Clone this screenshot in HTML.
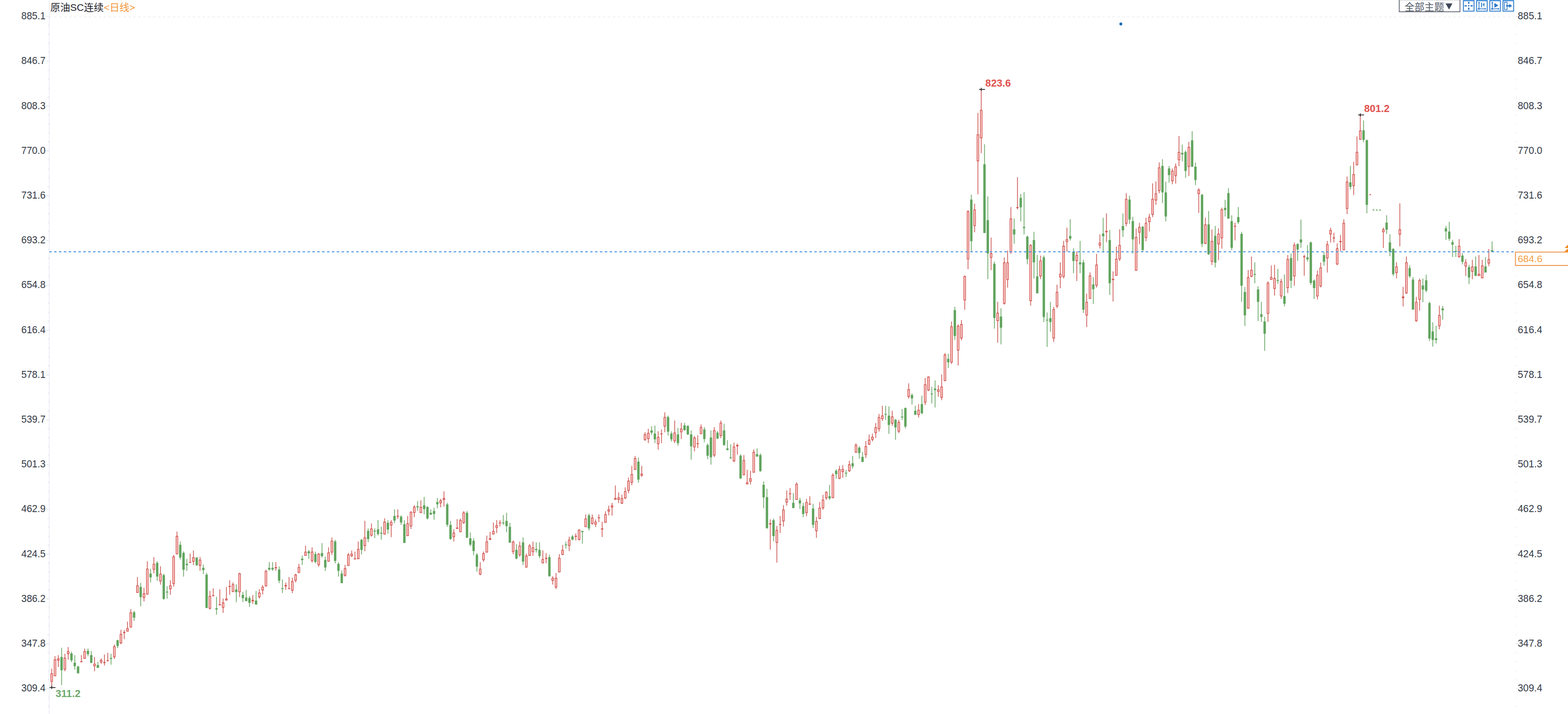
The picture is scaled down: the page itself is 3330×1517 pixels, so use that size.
<!DOCTYPE html>
<html><head><meta charset="utf-8"><title>chart</title>
<style>html,body{margin:0;padding:0;background:#fff;}body{width:3330px;height:1517px;overflow:hidden;position:relative;font-family:"Liberation Sans",sans-serif;}</style>
</head><body>
<svg width="3330" height="1517" viewBox="0 0 3330 1517" style="position:absolute;left:0;top:0;font-family:'Liberation Sans',sans-serif"><rect width="3330" height="1517" fill="#fff"/><line x1="104.5" y1="36" x2="3217" y2="36" stroke="#ecedef" stroke-width="1.3" stroke-dasharray="5.4 5.1"/><line x1="104.5" y1="0" x2="104.5" y2="1517" stroke="#e9ebf0" stroke-width="1.6"/><path d="M98.4 34.9h5.2M3219.4 34.9h4M101.4 53.9h2.4M3219.4 53.9h1.8M101.4 73h2.4M3219.4 73h1.8M101.4 92h2.4M3219.4 92h1.8M101.4 111.1h2.4M3219.4 111.1h1.8M98.4 130.1h5.2M3219.4 130.1h4M101.4 149.1h2.4M3219.4 149.1h1.8M101.4 168.2h2.4M3219.4 168.2h1.8M101.4 187.2h2.4M3219.4 187.2h1.8M101.4 206.3h2.4M3219.4 206.3h1.8M98.4 225.3h5.2M3219.4 225.3h4M101.4 244.3h2.4M3219.4 244.3h1.8M101.4 263.4h2.4M3219.4 263.4h1.8M101.4 282.4h2.4M3219.4 282.4h1.8M101.4 301.5h2.4M3219.4 301.5h1.8M98.4 320.5h5.2M3219.4 320.5h4M101.4 339.5h2.4M3219.4 339.5h1.8M101.4 358.6h2.4M3219.4 358.6h1.8M101.4 377.6h2.4M3219.4 377.6h1.8M101.4 396.7h2.4M3219.4 396.7h1.8M98.4 415.7h5.2M3219.4 415.7h4M101.4 434.7h2.4M3219.4 434.7h1.8M101.4 453.8h2.4M3219.4 453.8h1.8M101.4 472.8h2.4M3219.4 472.8h1.8M101.4 491.9h2.4M3219.4 491.9h1.8M98.4 510.9h5.2M3219.4 510.9h4M101.4 529.9h2.4M3219.4 529.9h1.8M101.4 549h2.4M3219.4 549h1.8M101.4 568h2.4M3219.4 568h1.8M101.4 587.1h2.4M3219.4 587.1h1.8M98.4 606.1h5.2M3219.4 606.1h4M101.4 625.1h2.4M3219.4 625.1h1.8M101.4 644.2h2.4M3219.4 644.2h1.8M101.4 663.2h2.4M3219.4 663.2h1.8M101.4 682.3h2.4M3219.4 682.3h1.8M98.4 701.3h5.2M3219.4 701.3h4M101.4 720.3h2.4M3219.4 720.3h1.8M101.4 739.4h2.4M3219.4 739.4h1.8M101.4 758.4h2.4M3219.4 758.4h1.8M101.4 777.5h2.4M3219.4 777.5h1.8M98.4 796.5h5.2M3219.4 796.5h4M101.4 815.5h2.4M3219.4 815.5h1.8M101.4 834.6h2.4M3219.4 834.6h1.8M101.4 853.6h2.4M3219.4 853.6h1.8M101.4 872.7h2.4M3219.4 872.7h1.8M98.4 891.7h5.2M3219.4 891.7h4M101.4 910.7h2.4M3219.4 910.7h1.8M101.4 929.8h2.4M3219.4 929.8h1.8M101.4 948.8h2.4M3219.4 948.8h1.8M101.4 967.9h2.4M3219.4 967.9h1.8M98.4 986.9h5.2M3219.4 986.9h4M101.4 1005.9h2.4M3219.4 1005.9h1.8M101.4 1025h2.4M3219.4 1025h1.8M101.4 1044h2.4M3219.4 1044h1.8M101.4 1063.1h2.4M3219.4 1063.1h1.8M98.4 1082.1h5.2M3219.4 1082.1h4M101.4 1101.1h2.4M3219.4 1101.1h1.8M101.4 1120.2h2.4M3219.4 1120.2h1.8M101.4 1139.2h2.4M3219.4 1139.2h1.8M101.4 1158.3h2.4M3219.4 1158.3h1.8M98.4 1177.3h5.2M3219.4 1177.3h4M101.4 1196.3h2.4M3219.4 1196.3h1.8M101.4 1215.4h2.4M3219.4 1215.4h1.8M101.4 1234.4h2.4M3219.4 1234.4h1.8M101.4 1253.5h2.4M3219.4 1253.5h1.8M98.4 1272.5h5.2M3219.4 1272.5h4M101.4 1291.5h2.4M3219.4 1291.5h1.8M101.4 1310.6h2.4M3219.4 1310.6h1.8M101.4 1329.6h2.4M3219.4 1329.6h1.8M101.4 1348.7h2.4M3219.4 1348.7h1.8M98.4 1367.7h5.2M3219.4 1367.7h4M101.4 1386.7h2.4M3219.4 1386.7h1.8M101.4 1405.8h2.4M3219.4 1405.8h1.8M101.4 1424.8h2.4M3219.4 1424.8h1.8M101.4 1443.9h2.4M3219.4 1443.9h1.8M98.4 1462.9h5.2M3219.4 1462.9h4M101.4 1481.9h2.4M3219.4 1481.9h1.8M101.4 1501h2.4M3219.4 1501h1.8" stroke="#d9dde4" stroke-width="1.4" fill="none"/><g font-size="21" fill="#353b47"><text transform="translate(96.7 41.1) scale(0.98 1.055)" text-anchor="end">885.1</text><text transform="translate(3223.3 41.1) scale(0.99 1.055)">885.1</text><text transform="translate(96.7 136.3) scale(0.98 1.055)" text-anchor="end">846.7</text><text transform="translate(3223.3 136.3) scale(0.99 1.055)">846.7</text><text transform="translate(96.7 231.5) scale(0.98 1.055)" text-anchor="end">808.3</text><text transform="translate(3223.3 231.5) scale(0.99 1.055)">808.3</text><text transform="translate(96.7 326.7) scale(0.98 1.055)" text-anchor="end">770.0</text><text transform="translate(3223.3 326.7) scale(0.99 1.055)">770.0</text><text transform="translate(96.7 421.9) scale(0.98 1.055)" text-anchor="end">731.6</text><text transform="translate(3223.3 421.9) scale(0.99 1.055)">731.6</text><text transform="translate(96.7 517.1) scale(0.98 1.055)" text-anchor="end">693.2</text><text transform="translate(3223.3 517.1) scale(0.99 1.055)">693.2</text><text transform="translate(96.7 612.3) scale(0.98 1.055)" text-anchor="end">654.8</text><text transform="translate(3223.3 612.3) scale(0.99 1.055)">654.8</text><text transform="translate(96.7 707.5) scale(0.98 1.055)" text-anchor="end">616.4</text><text transform="translate(3223.3 707.5) scale(0.99 1.055)">616.4</text><text transform="translate(96.7 802.7) scale(0.98 1.055)" text-anchor="end">578.1</text><text transform="translate(3223.3 802.7) scale(0.99 1.055)">578.1</text><text transform="translate(96.7 897.9) scale(0.98 1.055)" text-anchor="end">539.7</text><text transform="translate(3223.3 897.9) scale(0.99 1.055)">539.7</text><text transform="translate(96.7 993.1) scale(0.98 1.055)" text-anchor="end">501.3</text><text transform="translate(3223.3 993.1) scale(0.99 1.055)">501.3</text><text transform="translate(96.7 1088.3) scale(0.98 1.055)" text-anchor="end">462.9</text><text transform="translate(3223.3 1088.3) scale(0.99 1.055)">462.9</text><text transform="translate(96.7 1183.5) scale(0.98 1.055)" text-anchor="end">424.5</text><text transform="translate(3223.3 1183.5) scale(0.99 1.055)">424.5</text><text transform="translate(96.7 1278.7) scale(0.98 1.055)" text-anchor="end">386.2</text><text transform="translate(3223.3 1278.7) scale(0.99 1.055)">386.2</text><text transform="translate(96.7 1373.9) scale(0.98 1.055)" text-anchor="end">347.8</text><text transform="translate(3223.3 1373.9) scale(0.99 1.055)">347.8</text><text transform="translate(96.7 1469.1) scale(0.98 1.055)" text-anchor="end">309.4</text><text transform="translate(3223.3 1469.1) scale(0.99 1.055)">309.4</text></g><path d="M130.8 1376.3V1455.8M151.8 1384.8V1406.9M158.8 1392.1V1422.7M165.8 1414.6V1431.4M186.8 1378.1V1394.5M193.8 1383.3V1408.4M207.8 1406.1V1419M235.8 1389V1412.3M249.8 1359.2V1377.1M284.8 1297.9V1319.2M298.8 1238.4V1288.1M319.8 1208.4V1237.3M333.8 1192.6V1233.8M347.8 1219V1274.1M354.8 1245.4V1272.1M382.8 1150.6V1188.7M389.8 1171.6V1225.2M396.8 1187.2V1213.1M417.8 1184.1V1202.2M431.8 1199.6V1219.8M438.8 1217.1V1291.7M459.8 1267.9V1306M501.8 1241.5V1279.5M515.8 1257.4V1279.2M522.8 1253.5V1277.6M529.8 1266.4V1289.8M543.8 1255.5V1284.6M571.8 1194.3V1212.7M578.8 1194.3V1212.7M592.8 1203.4V1239.1M599.8 1231V1260M641.8 1180.4V1200.6M655.8 1168.4V1187.8M669.8 1172V1197.1M683.8 1154V1184.7M690.8 1182.4V1213M711.8 1147.1V1197.1M718.8 1194.3V1225.1M725.8 1211.9V1239.1M767.8 1145.3V1177.9M781.8 1122.6V1151.8M795.8 1122.6V1143.3M802.8 1104.9V1138.1M809.8 1118.9V1146.8M823.8 1105.2V1133.9M837.8 1082.2V1111.4M851.8 1094.7V1115.3M858.8 1105.2V1153.4M886.8 1064.5V1085.3M900.8 1055.8V1092.5M907.8 1075.4V1103.4M914.8 1082.2V1093.6M921.8 1078.8V1104.4M928.8 1057.9V1080.1M949.8 1068.3V1119.2M956.8 1106.8V1147.1M991.8 1085.8V1142.5M998.8 1131.3V1160.3M1005.8 1143.7V1179.8M1012.8 1175.1V1214.7M1068.8 1094.3V1115.3M1075.8 1089.4V1130.8M1082.8 1110.7V1153M1096.8 1156.2V1188.3M1110.8 1141.7V1200.6M1138.8 1152.3V1174.1M1145.8 1152.3V1186.3M1166.8 1178.5V1224.6M1201.8 1150.8V1165.5M1215.8 1136.4V1148.1M1236.8 1128.1V1155.2M1250.8 1091.2V1127.1M1355.8 972.2V1025.4M1383.8 905.6V923.7M1390.8 904.3V941.6M1418.8 882.9V925.6M1425.8 916.3V938.1M1439.8 908.9V947M1453.8 898.4V915.3M1460.8 903.7V924.1M1467.8 914.4V976.5M1495.8 907.6V939.6M1502.8 942.5V975.5M1509.8 914.4V987.2M1523.8 915.9V932.8M1537.8 900.4V947M1544.8 935.3V957.1M1551.8 943.9V975M1572.8 964.9V1016.9M1607.8 952.8V971.1M1614.8 963.3V1002.7M1621.8 1022.7V1079.7M1628.8 1038.6V1123.1M1642.8 1101.8V1149.9M1684.8 1047.4V1079.5M1698.8 1057.8V1081.5M1705.8 1068.2V1099M1726.8 1070.2V1122M1761.8 1029.9V1062M1775.8 996.9V1016.9M1796.8 998.3V1013.4M1810.8 968.7V995.5M1824.8 948V974.6M1831.8 960.2V981.6M1880.8 861.9V892.6M1887.8 863.5V922.1M1901.8 890.3V934.4M1915.8 868.9V892.2M1922.8 865.4V910.1M1936.8 835.9V859.2M1943.8 861.9V881.4M1957.8 840.6V880M1978.8 821.7V857.3M1985.8 808.2V865.8M2013.8 751.8V781.7M2027.8 651.7V722.1M2062.8 413.4V534.2M2090.8 306.6V495M2097.8 417.3V593M2111.8 555.5V698.3M2125.8 655.1V731.8M2153.8 464.3V517.7M2167.8 411.8V470.5M2174.8 408.3V498.3M2181.8 500.8V561.4M2195.8 492.4V591.5M2202.8 541.6V623.7M2216.8 542.9V684.3M2223.8 663.9V737.1M2230.8 641.2V704.7M2272.8 465.8V510.9M2279.8 527.4V580.4M2293.8 511.8V580.4M2300.8 552V664.9M2321.8 588.7V645.8M2342.8 462.7V536.5M2356.8 488.5V626.4M2384.8 453.6V503.5M2398.8 415.7V475.5M2405.8 460.8V539M2426.8 480.2V534.2M2468.8 338.3V431.6M2475.8 386.1V470.4M2482.8 352.5V388.1M2510.8 306.9V342.8M2517.8 319.5V377.8M2531.8 278.7V355M2538.8 345.3V393.3M2552.8 412.1V524.7M2566.8 448.6V541.7M2580.8 480V568.3M2601.8 424.4V459.9M2608.8 399.7V464.6M2615.8 457.4V531.5M2629.8 439.9V475.8M2636.8 492.5V641.6M2643.8 609.7V692.6M2664.8 557.3V601.9M2671.8 608.2V681.9M2678.8 641.2V683.9M2685.8 672.9V745.6M2713.8 571.3V603.3M2727.8 583.3V650.9M2741.8 538.3V612M2755.8 516.9V554.2M2762.8 466.5V526.6M2776.8 520.4V555.7M2783.8 513V605.2M2790.8 593.6V635M2811.8 535.3V564.5M2867.8 352.5V402.5M2895.8 255.9V302.3M2902.8 296.2V452.9M2944.8 457.2V497M2951.8 497.6V544.2M2958.8 526.7V586.3M2993.8 564V590.2M3000.8 588.8V657.8M3021.8 592.1V642M3028.8 583.4V621.1M3035.8 640.9V724.5M3042.8 685.1V736.6M3049.8 691.9V729.7M3063.8 649.9V679.2M3070.8 480.1V509.6M3077.8 471.2V511.6M3084.8 509.6V546.1M3091.8 522.2V546.1M3105.8 537.8V561.7M3119.8 562.4V603.8M3133.8 545V586.3M3154.8 546.5V579.1M3168.8 513.1V534.9" stroke="#78b075" stroke-width="1.8" fill="none"/><path d="M109.8 1420.4V1459.7M116.8 1394.1V1436.4M123.8 1392.1V1417M137.8 1389V1426.3M144.8 1374.7V1401.4M172.8 1392.1V1406.9M179.8 1378.1V1399.6M200.8 1396V1426.3M214.8 1398.8V1410.8M221.8 1390.6V1413.9M228.8 1387V1405.3M242.8 1369.6V1399.9M256.8 1338.2V1368.8M263.8 1338.6V1358M270.8 1320.7V1341.7M277.8 1294.3V1333.1M291.8 1226V1259.4M305.8 1248.8V1277.7M312.8 1192.6V1263.3M326.8 1183.8V1218.2M340.8 1203.2V1242.3M361.8 1232.7V1263.7M368.8 1178.9V1246.2M375.8 1129.6V1177.6M403.8 1176.3V1195.4M410.8 1169.6V1200.7M424.8 1183.6V1212.8M445.8 1255.5V1295.1M452.8 1250.1V1267.1M466.8 1251.9V1286.1M473.8 1271.5V1302.1M480.8 1247V1275.7M487.8 1232.7V1263.7M494.8 1237.6V1257.8M508.8 1216.7V1268.4M536.8 1264.2V1283.1M550.8 1251.8V1271.7M557.8 1243.1V1263.2M564.8 1210.3V1245.7M585.8 1194.3V1212.7M606.8 1237.8V1253M613.8 1225.9V1251.2M620.8 1227.4V1260M627.8 1218.9V1237.2M634.8 1197.9V1218.1M648.8 1159.6V1180.8M662.8 1163V1195.3M676.8 1175.1V1204.1M697.8 1163V1193.3M704.8 1142V1179.3M732.8 1199.9V1225.1M739.8 1174.8V1202.3M746.8 1169.7V1183.6M753.8 1172V1188.3M760.8 1150.6V1187.8M774.8 1106.5V1171.2M788.8 1112.2V1140.2M816.8 1101.3V1135.5M830.8 1104.9V1141.2M844.8 1082.2V1102.4M865.8 1096.2V1139.1M872.8 1085.8V1123.9M879.8 1073.4V1099M893.8 1063V1090M935.8 1059.9V1078M942.8 1043.9V1076.5M963.8 1124.6V1150.6M970.8 1102.9V1123.5M977.8 1101.8V1130.4M984.8 1085.8V1113M1019.8 1194.5V1222.2M1026.8 1171.7V1193.7M1033.8 1138.1V1173.9M1040.8 1129.8V1147.1M1047.8 1110.2V1135.5M1054.8 1104.9V1132.4M1061.8 1104.9V1118.4M1089.8 1148.6V1177.5M1103.8 1150.7V1183.1M1117.8 1176.6V1205.7M1124.8 1155.8V1181.1M1131.8 1150.8V1181.1M1152.8 1169.4V1196.6M1159.8 1175.2V1196.6M1173.8 1224.2V1242M1180.8 1217.4V1251.4M1187.8 1177.2V1216M1194.8 1157.8V1179.5M1208.8 1140.3V1170.8M1222.8 1133.3V1148.1M1229.8 1124.2V1148.4M1243.8 1093.1V1119.7M1257.8 1093.1V1114.5M1264.8 1103.4V1119.7M1271.8 1093.1V1109.2M1278.8 1108.6V1141.1M1285.8 1086.3V1110.6M1292.8 1074.3V1095M1299.8 1068.4V1095.6M1306.8 1031.5V1062M1313.8 1046.3V1068.8M1320.8 1051.1V1071.1M1327.8 1035.4V1060M1334.8 1014.4V1047.9M1341.8 989.7V1030.9M1348.8 968.7V998.3M1362.8 989.7V1013M1369.8 918.3V936.7M1376.8 910.9V941.6M1397.8 916.3V955.5M1404.8 912.4V941.6M1411.8 875.9V918.6M1432.8 893.4V941.6M1446.8 898.4V932.8M1474.8 926.4V959M1481.8 925V952.2M1488.8 901.7V922.1M1516.8 907.6V971.1M1530.8 893.4V930.9M1558.8 940.6V981.9M1565.8 942.5V965.8M1579.8 966.8V1009.5M1586.8 998.3V1028.9M1593.8 1000.2V1029.3M1600.8 954.8V1004.1M1635.8 1103.4V1167.6M1649.8 1117.3V1195.3M1656.8 1096.2V1132.4M1663.8 1073.3V1118.4M1670.8 1041.9V1074.5M1677.8 1036.7V1062M1691.8 1024.7V1062M1712.8 1059.9V1097.1M1719.8 1054.2V1072.2M1733.8 1098.2V1142.8M1740.8 1066.5V1102.4M1747.8 1051.2V1083M1754.8 1043.5V1062M1768.8 1005.2V1058.3M1782.8 989.7V1018.3M1789.8 988.2V1015M1803.8 979V1002.9M1817.8 942.1V962.5M1838.8 936.9V973.2M1845.8 923.3V945.4M1852.8 921.4V937.7M1859.8 898.8V930.5M1866.8 879.4V916.9M1873.8 861.9V894.2M1894.8 872.8V904.7M1908.8 891.7V920.2M1929.8 814.6V847M1950.8 858.6V887.2M1964.8 802.9V860.6M1971.8 799.4V830.9M1992.8 818.4V843.1M1999.8 795.5V850.3M2006.8 749.9V809.5M2020.8 683.3V773.2M2034.8 689.1V776.5M2041.8 680V722.7M2048.8 585.2V658.1M2055.8 446.4V572M2069.8 432.8V493.4M2076.8 240V412.8M2083.8 190.1V325.4M2104.8 504.7V574M2118.8 641.2V728M2132.8 546.8V647M2139.8 532.6V610.9M2146.8 440V539M2160.8 376.5V444.9M2188.8 518.6V649.3M2209.8 542.9V593M2237.8 651.7V726.6M2244.8 604.7V654.8M2251.8 557.5V612.4M2258.8 511.8V591.5M2265.8 483.7V534.6M2286.8 534.2V596.9M2307.8 623.7V695M2314.8 578.4V634.8M2328.8 539.6V610.9M2335.8 497.7V528M2349.8 453.6V514.4M2363.8 576.5V640.6M2370.8 524.1V585.6M2377.8 487.2V554.6M2391.8 410.3V480.8M2412.8 485.6V575.1M2419.8 473.6V519M2433.8 462.7V512.4M2440.8 454.2V491.5M2447.8 389.5V461.4M2454.8 385.6V435.1M2461.8 345.3V410.8M2489.8 357.8V391.4M2496.8 347.3V390M2503.8 289V353.1M2524.8 301.5V373.9M2545.8 399.7V452.5M2559.8 462.6V518.8M2573.8 487.4V563.1M2587.8 485.3V552.8M2594.8 441.3V528.2M2622.8 472.9V510.7M2650.8 573.6V655.7M2657.8 545V589.1M2692.8 597.5V683.9M2699.8 563.9V594.6M2706.8 562.5V628M2720.8 592.6V635M2734.8 541.7V622.7M2748.8 515.3V607.2M2769.8 541.2V585.8M2797.8 575.1V636.3M2804.8 557.7V610.5M2818.8 512V579M2825.8 483.7V515.3M2832.8 494.4V515.3M2839.8 516.9V563.1M2846.8 499.4V533.4M2853.8 466.1V531.5M2860.8 375.1V454.9M2874.8 343.8V414.6M2881.8 289.5V351.1M2888.8 244.3V296.7M2937.8 483.4V526.7M2965.8 557.2V591.6M2972.8 432.3V523.6M2979.8 609.6V651.1M2986.8 545V624.5M3007.8 631V683.9M3014.8 592.1V659.8M3056.8 649.6V699.7M3098.8 508.1V547.5M3112.8 550.4V586.3M3126.8 551.9V593.1M3140.8 541.7V586.3M3147.8 551.9V591.2M3161.8 529V565.5" stroke="#d26b67" stroke-width="1.8" fill="none"/><path d="M128.3 1395.7h5v28.3h-5zM149.3 1388.2h5v14.8h-5zM156.3 1408.1h5v7.3h-5zM163.3 1416.2h5v14h-5zM184.3 1382.8h5v7h-5zM191.3 1392.1h5v16.3h-5zM205.3 1413.1h5v5.9h-5zM233.3 1397.9h5v2h-5zM247.3 1360.3h5v12.1h-5zM282.3 1301h5v11.2h-5zM296.3 1247h5v21.7h-5zM317.3 1218.7h5v8.1h-5zM331.3 1196h5v28.9h-5zM345.3 1222.1h5v50.5h-5zM352.3 1256.9h5v1.8h-5zM380.3 1157.5h5v27.1h-5zM387.3 1174.8h5v35.7h-5zM394.3 1197.7h5v3h-5zM415.3 1184.8h5v16.3h-5zM429.3 1206.6h5v4.7h-5zM436.3 1220.9h5v70.8h-5zM457.3 1292.3h5v2.8h-5zM499.3 1252.4h5v5.7h-5zM513.3 1263.9h5v6.8h-5zM520.3 1269.5h5v7.4h-5zM527.3 1270.4h5v10.4h-5zM541.3 1276.1h5v8.5h-5zM569.3 1206.5h5v3.4h-5zM576.3 1206.5h5v3.4h-5zM590.3 1209.9h5v23.8h-5zM597.3 1249.7h5v1.8h-5zM639.3 1187h5v3.1h-5zM653.3 1171.5h5v4.2h-5zM667.3 1177h5v17.1h-5zM681.3 1175.1h5v6.5h-5zM688.3 1189.4h5v16.3h-5zM709.3 1150.6h5v41.1h-5zM716.3 1197.9h5v14.8h-5zM723.3 1218.6h5v20.5h-5zM765.3 1146.8h5v21.7h-5zM779.3 1127.7h5v17.5h-5zM793.3 1127.6h5v1.8h-5zM800.3 1124.6h5v9.8h-5zM807.3 1131.9h5v2h-5zM821.3 1110.7h5v14.4h-5zM835.3 1096.2h5v9.8h-5zM849.3 1097.8h5v12.1h-5zM856.3 1113.8h5v39.6h-5zM884.3 1075.4h5v2.6h-5zM898.3 1073.4h5v8.2h-5zM905.3 1077h5v24.4h-5zM912.3 1089.4h5v4.2h-5zM919.3 1085.8h5v6.2h-5zM926.3 1066.7h5v4.7h-5zM947.3 1071.8h5v43h-5zM954.3 1115.3h5v30h-5zM989.3 1089.4h5v53.1h-5zM996.3 1143.7h5v13.5h-5zM1003.3 1149h5v21.7h-5zM1010.3 1178.5h5v25.3h-5zM1066.3 1110.3h5v1.8h-5zM1073.3 1106.8h5v11.2h-5zM1080.3 1119.2h5v33.9h-5zM1094.3 1168.2h5v18.6h-5zM1108.3 1152.2h5v41h-5zM1136.3 1166.3h5v2.5h-5zM1143.3 1168.3h5v13.2h-5zM1164.3 1183.8h5v40.8h-5zM1199.3 1156.8h5v1.8h-5zM1213.3 1139.7h5v6.8h-5zM1234.3 1128.1h5v2.5h-5zM1248.3 1095h5v27.8h-5zM1353.3 980.8h5v38.1h-5zM1381.3 914.4h5v4.9h-5zM1388.3 921.2h5v12.2h-5zM1416.3 886.2h5v31.1h-5zM1423.3 921.2h5v12.2h-5zM1437.3 923.1h5v18.4h-5zM1451.3 903.7h5v10.3h-5zM1458.3 905h5v18.1h-5zM1465.3 923.1h5v25.2h-5zM1493.3 912.4h5v20.4h-5zM1500.3 945.4h5v22.9h-5zM1507.3 929.5h5v42.1h-5zM1521.3 919.2h5v12.6h-5zM1535.3 914.4h5v31.1h-5zM1542.3 952.8h5v3.3h-5zM1549.3 971.7h5v1.9h-5zM1570.3 968.3h5v48.5h-5zM1605.3 964.9h5v4.9h-5zM1612.3 966.8h5v34h-5zM1619.3 1029.9h5v26.8h-5zM1626.3 1056.2h5v66.1h-5zM1640.3 1105.2h5v33.9h-5zM1682.3 1068.2h5v11.3h-5zM1696.3 1062.9h5v6.5h-5zM1703.3 1075.3h5v16.7h-5zM1724.3 1080.4h5v34.5h-5zM1759.3 1054.2h5v4.8h-5zM1773.3 1000.2h5v7.4h-5zM1794.3 1004.4h5v1.8h-5zM1808.3 984.3h5v6.4h-5zM1822.3 950.9h5v11.7h-5zM1829.3 970.7h5v10.9h-5zM1878.3 879.4h5v1.9h-5zM1885.3 882.9h5v19.8h-5zM1899.3 891.7h5v16.5h-5zM1913.3 884.9h5v1.9h-5zM1920.3 867h5v39.2h-5zM1934.3 839.2h5v7.2h-5zM1941.3 872.8h5v8.5h-5zM1955.3 858.6h5v19.4h-5zM1976.3 835.9h5v1.9h-5zM1983.3 825.6h5v3.3h-5zM2011.3 762.3h5v7.4h-5zM2025.3 659h5v54.8h-5zM2060.3 423.9h5v88.5h-5zM2088.3 349h5v145.9h-5zM2095.3 467.8h5v70.7h-5zM2109.3 560.4h5v115.1h-5zM2123.3 672.6h5v23.7h-5zM2151.3 487.2h5v11.1h-5zM2165.3 420.6h5v20h-5zM2172.3 482.1h5v2.5h-5zM2179.3 502.7h5v48h-5zM2193.3 509.9h5v47.6h-5zM2200.3 587.2h5v35.9h-5zM2214.3 546.8h5v126.8h-5zM2221.3 679.2h5v1.8h-5zM2228.3 676.1h5v8.2h-5zM2270.3 501.2h5v5.8h-5zM2277.3 535.1h5v19.4h-5zM2291.3 557.5h5v4.2h-5zM2298.3 557.5h5v100.6h-5zM2319.3 604.3h5v10.1h-5zM2340.3 496.3h5v5.8h-5zM2354.3 509.9h5v91.8h-5zM2382.3 480.2h5v9.3h-5zM2396.3 423.9h5v42.7h-5zM2403.3 469.7h5v38.8h-5zM2424.3 481.7h5v49.5h-5zM2466.3 352.5h5v56.3h-5zM2473.3 408.8h5v51.1h-5zM2480.3 357.8h5v14.2h-5zM2508.3 324.8h5v3.5h-5zM2515.3 322.8h5v40.4h-5zM2529.3 298.2h5v55.7h-5zM2536.3 353.9h5v28.7h-5zM2550.3 413.7h5v104.2h-5zM2564.3 476.8h5v63.4h-5zM2578.3 501h5v57.1h-5zM2599.3 441.8h5v4.5h-5zM2606.3 410.2h5v54.4h-5zM2613.3 470h5v56.6h-5zM2627.3 461.3h5v10.7h-5zM2634.3 496.8h5v110.3h-5zM2641.3 620.2h5v49.7h-5zM2662.3 581.9h5v1.9h-5zM2669.3 615h5v26.6h-5zM2676.3 667.4h5v5.8h-5zM2683.3 683h5v26.1h-5zM2711.3 595.3h5v1.8h-5zM2725.3 629.1h5v16.3h-5zM2739.3 548.3h5v48.2h-5zM2753.3 518.4h5v11.7h-5zM2760.3 508.7h5v6.6h-5zM2774.3 547h5v3.9h-5zM2781.3 515.3h5v86h-5zM2788.3 596.1h5v15.9h-5zM2809.3 542.1h5v14h-5zM2865.3 387.4h5v9.7h-5zM2893.3 276.7h5v20.5h-5zM2900.3 298.1h5v137.1h-5zM2942.3 473.1h5v14.8h-5zM2949.3 515h5v19.8h-5zM2956.3 529h5v53.4h-5zM2991.3 569.4h5v17.5h-5zM2998.3 594.1h5v63.7h-5zM3019.3 606.4h5v8.9h-5zM3026.3 595.4h5v22.2h-5zM3033.3 644.1h5v75.1h-5zM3040.3 704.3h5v18h-5zM3047.3 718.8h5v3.6h-5zM3061.3 655.2h5v4.1h-5zM3068.3 485.3h5v6.4h-5zM3075.3 492.1h5v15.1h-5zM3082.3 514.5h5v5.2h-5zM3089.3 532.9h5v1.9h-5zM3103.3 543h5v13.2h-5zM3117.3 567.5h5v22.1h-5zM3131.3 565.9h5v20.4h-5zM3152.3 565.9h5v13.2h-5zM3166.3 531.4h5v3.5h-5z" fill="#5fa35c"/><path d="M170.3 1405h5v1.9h-5zM219.3 1406.6h5v2.2h-5zM226.3 1402.9h5v1.8h-5zM261.3 1343.1h5v1.8h-5zM401.3 1194h5v1.8h-5zM450.3 1264.7h5v1.8h-5zM464.3 1284.1h5v1.8h-5zM485.3 1245.1h5v1.9h-5zM534.3 1274.5h5v3.1h-5zM583.3 1204.9h5v2.3h-5zM604.3 1243h5v2.8h-5zM611.3 1249.7h5v1.8h-5zM751.3 1186.6h5v1.8h-5zM842.3 1095.9h5v1.9h-5zM968.3 1121.1h5v2.5h-5zM1038.3 1143.7h5v3.4h-5zM1059.3 1110.3h5v1.8h-5zM1157.3 1185.3h5v2.3h-5zM1220.3 1138.6h5v1.8h-5zM1269.3 1099.3h5v1.8h-5zM1276.3 1122.8h5v2.3h-5zM1402.3 920.9h5v1.8h-5zM1479.3 941.8h5v1.8h-5zM1563.3 945.4h5v2.9h-5zM1633.3 1111.7h5v2.5h-5zM1654.3 1113.4h5v1.8h-5zM1675.3 1048.3h5v1.7h-5zM1717.3 1070h5v2.2h-5zM2158.3 440h5v1.9h-5zM2347.3 490.5h5v2.9h-5zM2361.3 592.6h5v2.3h-5zM2620.3 479.7h5v1.8h-5zM2767.3 544.6h5v1.8h-5zM2830.3 504.6h5v1.8h-5zM2844.3 512h5v2.5h-5zM2977.3 630.1h5v3.5h-5z" fill="#d2504c"/><path d="M108 1431.6h3.6v16.1h-3.6zM115 1401.7h3.6v34h-3.6zM122 1399.8h3.6v2.9h-3.6zM136 1398.3h3.6v23.4h-3.6zM143 1384.3h3.6v4.5h-3.6zM178 1384.3h3.6v14.6h-3.6zM199 1411h3.6v3.7h-3.6zM213 1402.9h3.6v3.6h-3.6zM241 1373.7h3.6v21.9h-3.6zM255 1347.8h3.6v18.3h-3.6zM269 1335.4h3.6v5.6h-3.6zM276 1301.7h3.6v30.7h-3.6zM290 1244.6h3.6v14.1h-3.6zM304 1261.6h3.6v7.9h-3.6zM311 1209.1h3.6v53.4h-3.6zM325 1198.7h3.6v11h-3.6zM339 1219.7h3.6v14.9h-3.6zM360 1244.6h3.6v6.4h-3.6zM367 1182.9h3.6v57.1h-3.6zM374 1139.6h3.6v37.2h-3.6zM409 1184.8h3.6v7.9h-3.6zM423 1189.9h3.6v11.3h-3.6zM444 1267.1h3.6v25.5h-3.6zM472 1281h3.6v9.5h-3.6zM479 1272.5h3.6v2.5h-3.6zM493 1242.2h3.6v14.9h-3.6zM507 1218.9h3.6v38.7h-3.6zM549 1259.8h3.6v8.1h-3.6zM556 1247.4h3.6v6.4h-3.6zM563 1214.1h3.6v30.9h-3.6zM619 1235.4h3.6v18.8h-3.6zM626 1221.4h3.6v11.5h-3.6zM633 1205.6h3.6v10.2h-3.6zM647 1173h3.6v7.1h-3.6zM661 1172.7h3.6v18.3h-3.6zM675 1177.3h3.6v22.5h-3.6zM696 1174.6h3.6v18h-3.6zM703 1149.7h3.6v23.4h-3.6zM731 1207.9h3.6v14.6h-3.6zM738 1178.9h3.6v22.7h-3.6zM745 1177.3h3.6v3.6h-3.6zM759 1167.3h3.6v19.9h-3.6zM773 1142.4h3.6v16.8h-3.6zM787 1123.8h3.6v13.4h-3.6zM815 1109h3.6v25.8h-3.6zM829 1109.8h3.6v5.6h-3.6zM864 1112.4h3.6v25.9h-3.6zM871 1088.5h3.6v29.2h-3.6zM878 1077.2h3.6v11.8h-3.6zM892 1077.7h3.6v11.6h-3.6zM934 1063.7h3.6v4.8h-3.6zM941 1059h3.6v2.3h-3.6zM962 1132.3h3.6v8.2h-3.6zM976 1105.6h3.6v24.1h-3.6zM983 1089.6h3.6v20.8h-3.6zM1018 1209.2h3.6v10.6h-3.6zM1025 1176.1h3.6v13.5h-3.6zM1032 1151.3h3.6v21.9h-3.6zM1046 1128.9h3.6v5.9h-3.6zM1053 1116.5h3.6v4.3h-3.6zM1088 1151.4h3.6v20.4h-3.6zM1102 1159.9h3.6v18.9h-3.6zM1116 1181.2h3.6v23.8h-3.6zM1123 1159.8h3.6v20.5h-3.6zM1130 1163.7h3.6v8.3h-3.6zM1151 1188.4h3.6v7.5h-3.6zM1172 1228.4h3.6v4.8h-3.6zM1179 1228.4h3.6v18.8h-3.6zM1186 1186h3.6v29.3h-3.6zM1193 1169h3.6v8.9h-3.6zM1207 1147.6h3.6v11.4h-3.6zM1228 1126.2h3.6v20h-3.6zM1242 1102.5h3.6v16.5h-3.6zM1256 1100.2h3.6v12.2h-3.6zM1263 1109.3h3.6v4.4h-3.6zM1284 1093.2h3.6v16.7h-3.6zM1291 1083.1h3.6v2.9h-3.6zM1298 1074.4h3.6v3.1h-3.6zM1305 1058.8h3.6v2.5h-3.6zM1312 1057.4h3.6v3.8h-3.6zM1319 1059.3h3.6v9.8h-3.6zM1326 1044.2h3.6v14.1h-3.6zM1333 1021.9h3.6v20h-3.6zM1340 1007.9h3.6v16.9h-3.6zM1347 974.3h3.6v23.3h-3.6zM1361 1007.3h3.6v2.5h-3.6zM1368 923.2h3.6v10.8h-3.6zM1375 920.5h3.6v11.6h-3.6zM1396 929h3.6v13.7h-3.6zM1410 886.9h3.6v18.6h-3.6zM1431 919.9h3.6v16.7h-3.6zM1445 911.6h3.6v6h-3.6zM1473 930.2h3.6v19.4h-3.6zM1487 908.3h3.6v13.2h-3.6zM1515 915.1h3.6v52h-3.6zM1529 899.1h3.6v26.2h-3.6zM1557 949.6h3.6v29.7h-3.6zM1578 978.2h3.6v30.6h-3.6zM1585 1025.4h3.6v2.9h-3.6zM1592 1017h3.6v5.4h-3.6zM1599 960.7h3.6v42.7h-3.6zM1648 1126.9h3.6v25.5h-3.6zM1662 1083.2h3.6v23.6h-3.6zM1669 1060.6h3.6v6.2h-3.6zM1690 1028.7h3.6v32.6h-3.6zM1711 1067.5h3.6v21.8h-3.6zM1732 1107.8h3.6v20h-3.6zM1739 1079.6h3.6v22.1h-3.6zM1746 1062.5h3.6v16.3h-3.6zM1753 1046.1h3.6v11.7h-3.6zM1767 1009.8h3.6v47.8h-3.6zM1781 997.6h3.6v18.6h-3.6zM1788 997.6h3.6v4.4h-3.6zM1802 986.9h3.6v13.4h-3.6zM1816 946.1h3.6v14.7h-3.6zM1837 948.7h3.6v17h-3.6zM1844 935.1h3.6v8.9h-3.6zM1851 928.7h3.6v5h-3.6zM1858 908.5h3.6v11h-3.6zM1865 887.1h3.6v23.8h-3.6zM1872 883.6h3.6v6h-3.6zM1893 885.6h3.6v13.7h-3.6zM1907 897.6h3.6v18.6h-3.6zM1928 827.7h3.6v14.7h-3.6zM1949 871.6h3.6v9.1h-3.6zM1963 817.2h3.6v37.4h-3.6zM1970 801.1h3.6v27.7h-3.6zM1991 828.3h3.6v3.5h-3.6zM1998 821.9h3.6v22.5h-3.6zM2005 753.9h3.6v54.9h-3.6zM2019 694.3h3.6v75.1h-3.6zM2033 692.7h3.6v51.4h-3.6zM2040 689.2h3.6v29.3h-3.6zM2047 587.5h3.6v49.9h-3.6zM2054 449.4h3.6v100.5h-3.6zM2068 445.9h3.6v33.6h-3.6zM2075 286.3h3.6v55.6h-3.6zM2082 234.3h3.6v58.8h-3.6zM2103 538.8h3.6v7.9h-3.6zM2117 665.2h3.6v16.1h-3.6zM2131 558.2h3.6v86.6h-3.6zM2138 558.2h3.6v35.7h-3.6zM2145 465h3.6v70.4h-3.6zM2187 521.3h3.6v117.6h-3.6zM2208 554.3h3.6v32.2h-3.6zM2236 657.4h3.6v61.1h-3.6zM2243 620.9h3.6v29.3h-3.6zM2250 582.4h3.6v6h-3.6zM2257 522.8h3.6v64.6h-3.6zM2264 509.2h3.6v4.4h-3.6zM2285 542.6h3.6v11.2h-3.6zM2306 642.3h3.6v27.3h-3.6zM2313 585.9h3.6v48.1h-3.6zM2327 563h3.6v43.3h-3.6zM2334 516.4h3.6v4.4h-3.6zM2369 550.4h3.6v34.5h-3.6zM2376 521.3h3.6v28.7h-3.6zM2390 423.2h3.6v51.6h-3.6zM2411 504.2h3.6v70.3h-3.6zM2418 482.8h3.6v10.8h-3.6zM2432 474.3h3.6v30.4h-3.6zM2439 461.5h3.6v9.5h-3.6zM2446 423.2h3.6v32.2h-3.6zM2453 411.6h3.6v13.6h-3.6zM2460 356.5h3.6v48.3h-3.6zM2488 363.5h3.6v20.7h-3.6zM2495 354.6h3.6v18.6h-3.6zM2502 323.5h3.6v16.1h-3.6zM2523 313h3.6v40.7h-3.6zM2544 403.7h3.6v7.7h-3.6zM2558 477.5h3.6v39.7h-3.6zM2572 512.7h3.6v42.7h-3.6zM2586 497.1h3.6v21.1h-3.6zM2593 445.5h3.6v60.1h-3.6zM2649 589.4h3.6v65.6h-3.6zM2656 573.9h3.6v13.2h-3.6zM2691 601.5h3.6v64.2h-3.6zM2698 589.4h3.6v4.4h-3.6zM2705 591.4h3.6v21.5h-3.6zM2719 598.2h3.6v30.6h-3.6zM2733 551h3.6v60.3h-3.6zM2747 521.1h3.6v65.4h-3.6zM2796 584.6h3.6v44.2h-3.6zM2803 569h3.6v38.8h-3.6zM2817 519.5h3.6v28.7h-3.6zM2824 489.6h3.6v7.6h-3.6zM2838 528.3h3.6v32.6h-3.6zM2852 474.2h3.6v56.6h-3.6zM2859 386.5h3.6v56.5h-3.6zM2873 370.7h3.6v23.8h-3.6zM2880 323.6h3.6v26.9h-3.6zM2887 278h3.6v18h-3.6zM2936 488h3.6v4.4h-3.6zM2964 567h3.6v12.2h-3.6zM2971 488h3.6v9.7h-3.6zM2985 557.9h3.6v64.7h-3.6zM3006 642.3h3.6v39.3h-3.6zM3013 596.1h3.6v39.8h-3.6zM3055 670.3h3.6v21.9h-3.6zM3097 522.9h3.6v22.5h-3.6zM3111 557.9h3.6v7.7h-3.6zM3125 567h3.6v9.5h-3.6zM3139 582.5h3.6v3.1h-3.6zM3146 564.7h3.6v25.8h-3.6zM3160 551.5h3.6v7.5h-3.6z" fill="#fddedb" stroke="#d2504c" stroke-width="1.5"/><path d="M2907.2 414.5L2909.8 411.7L2912.4 414.5z" fill="#d2504c"/><path d="M2914.2 447L2916.8 444.2L2919.4 447zM2921.2 447.2L2923.8 444.4L2926.4 447.2zM2928.2 447.2L2930.8 444.4L2933.4 447.2z" fill="#5fa35c"/><line x1="104.5" y1="535" x2="3217" y2="535" stroke="#4594e5" stroke-width="1.9" stroke-dasharray="5.2 5.15"/><path d="M105.3 1460.8h12.5M109.8 1457.3v6.5M2079.3 190.1h12.5M2083.8 186.6v6.5M2884.3 244.3h12.5M2888.8 240.8v6.5" stroke="#111" stroke-width="1.5" fill="none"/><g font-size="21" font-weight="bold"><text transform="translate(2092.6 184.3) scale(1.03 1.03)" fill="#e0524e">823.6</text><text transform="translate(2897 238.4) scale(1.03 1.03)" fill="#e0524e">801.2</text><text transform="translate(118 1480.6) scale(1.03 1.03)" fill="#6fa96c">311.2</text></g><circle cx="2380.4" cy="50.9" r="3.1" fill="#1f6db3"/><rect x="3218.4" y="535.6" width="130" height="28.4" fill="#fff" stroke="#ec9a52" stroke-width="2"/><text x="3223.2" y="556.7" font-size="21" fill="#f5a043">684.6</text><path d="M3322.8 526.9L3330 519.8V526.9zM3322 534.9L3330 527.9V534.9z" fill="#f5891c"/><text x="107" y="22.7" font-size="21" fill="#1f232b" style="font-family:'Liberation Sans','Noto Sans CJK SC',sans-serif">原油SC连续</text><text x="220.4" y="22.7" font-size="21" fill="#f2963a" style="font-family:'Liberation Sans','Noto Sans CJK SC',sans-serif">&lt;日线&gt;</text><rect x="2971.6" y="-0.5" width="129" height="25.5" fill="#fff" stroke="#555b68" stroke-width="1.6"/><text x="2982.9" y="21.7" font-size="21" fill="#515967" style="font-family:'Liberation Sans','Noto Sans CJK SC',sans-serif">全部主题</text><path d="M3070 7.2h14.6l-7.3 13z" fill="#3f4756"/><rect x="3106.7" y="-0.4" width="25" height="25.6" fill="none" stroke="#d9ebfa" stroke-width="1.4"/><rect x="3108" y="1.6" width="22.4" height="22" fill="#fff" stroke="#2877c9" stroke-width="1.7"/><path d="M3107.3 0.6h23.8" stroke="#5aa5ec" stroke-width="1.2"/><rect x="3134.7" y="-0.4" width="25" height="25.6" fill="none" stroke="#d9ebfa" stroke-width="1.4"/><rect x="3136" y="1.6" width="22.4" height="22" fill="#fff" stroke="#2877c9" stroke-width="1.7"/><path d="M3135.3 0.6h23.8" stroke="#5aa5ec" stroke-width="1.2"/><rect x="3162.7" y="-0.4" width="25" height="25.6" fill="none" stroke="#d9ebfa" stroke-width="1.4"/><rect x="3164" y="1.6" width="22.4" height="22" fill="#fff" stroke="#2877c9" stroke-width="1.7"/><path d="M3163.3 0.6h23.8" stroke="#5aa5ec" stroke-width="1.2"/><rect x="3190.7" y="-0.4" width="25" height="25.6" fill="none" stroke="#d9ebfa" stroke-width="1.4"/><rect x="3192" y="1.6" width="22.4" height="22" fill="#fff" stroke="#2877c9" stroke-width="1.7"/><path d="M3191.3 0.6h23.8" stroke="#5aa5ec" stroke-width="1.2"/><path d="M3119.2 4.1v3.9M3119.2 16.3v4.6M3110.4 12.4h4.6M3123 12.4h4.7M3117.8 12.4h2.8" stroke="#2877c9" stroke-width="2.9" fill="none"/><path d="M3141 4.4v16.5M3138.3 18.7h17.5" stroke="#2877c9" stroke-width="1.6" fill="none"/><path d="M3141 3.8l2.4 3h-4.8zM3156.2 18.7l-3-2.2v4.4zM3138 18.7l2.6-2v4z" fill="#2877c9"/><path d="M3169.2 4.4v16.5M3166.5 18.7h17.5" stroke="#2877c9" stroke-width="1.6" fill="none"/><path d="M3169.2 3.8l2.4 3h-4.8zM3184.3 18.7l-3-2.2v4.4zM3166.2 18.7l2.6-2v4z" fill="#2877c9"/><path d="M3146.4 5.8v9.8" stroke="#2877c9" stroke-width="2" fill="none"/><path d="M3152.4 5.6v8.6l-3.6-4.3z" fill="#2877c9"/><path d="M3173.6 6.2v10.4l8.6-5.1z" fill="#2877c9"/><rect x="3195.2" y="4.6" width="5.4" height="15.8" fill="none" stroke="#2877c9" stroke-width="1.5"/><path d="M3198.6 12.4h7.5" stroke="#2877c9" stroke-width="2.9"/><path d="M3205.3 8.2l6 4.2l-6 4.2z" fill="#2877c9"/></svg>
</body></html>
